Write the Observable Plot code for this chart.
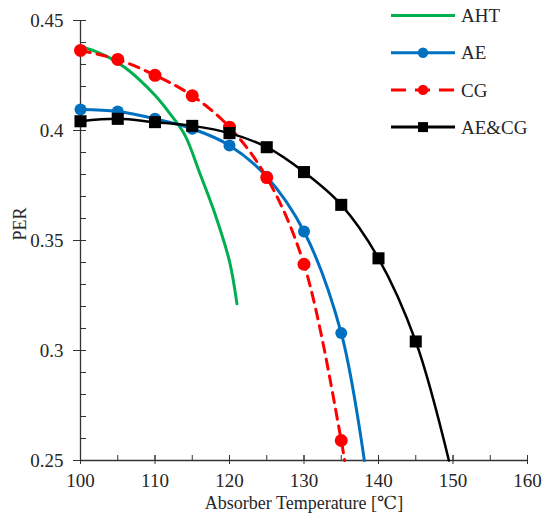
<!DOCTYPE html>
<html>
<head>
<meta charset="utf-8">
<script src="https://cdn.jsdelivr.net/npm/d3@7"></script>
<script src="https://cdn.jsdelivr.net/npm/@observablehq/plot@0.6"></script>
<style>
  body { margin: 0; background: #fff; }
  #chart { position: relative; width: 545px; height: 525px; font-family: "Liberation Serif", "DejaVu Serif", serif; }
  #legend { position: absolute; left: 0; top: 0; pointer-events: none; }
</style>
</head>
<body>
<div id="chart"></div>
<script>
// PER versus absorber temperature for four configurations
const seriesNames = ["AHT", "AE", "CG", "AE&CG"];

// AHT: continuous curve, no markers
const ahtTemps  = [100, 102, 104, 106, 108, 110, 112, 114, 116, 118, 120, 121];
const ahtValues = [0.4382, 0.4360, 0.4329, 0.4285, 0.4228, 0.4160, 0.4077, 0.3980, 0.3807, 0.3626, 0.3405, 0.3212];

// AE and CG: marked points every 5 °C
const markerTemps = [100, 105, 110, 115, 120, 125, 130, 135];
const aeValues = [0.4095, 0.4086, 0.4053, 0.4008, 0.3932, 0.379, 0.3541, 0.3079];
const cgValues = [0.4364, 0.4323, 0.4251, 0.4158, 0.4015, 0.3786, 0.3392, 0.2591];

// AE&CG: marked points every 5 °C up to 145
const comboTemps  = [100, 105, 110, 115, 120, 125, 130, 135, 140, 145];
const comboValues = [0.4042, 0.4053, 0.4038, 0.4021, 0.3988, 0.3924, 0.3811, 0.3662, 0.3419, 0.3041];

// temperature where each fitted curve reaches the bottom of the PER range
const curveEndTemps = { AE: 138.1, CG: 135.45, "AE&CG": 149.45 };
const curveEndValue = 0.25;

// axis ticks
const xMajorTicks = [100, 110, 120, 130, 140, 150, 160];
const xMinorTicks = [100, 105, 110, 115, 120, 125, 130, 135, 140, 145, 150, 155, 160];
const yMajorTicks = [0.25, 0.30, 0.35, 0.40, 0.45];
const yMinorTicks = [0.25, 0.26, 0.27, 0.28, 0.29, 0.30, 0.31, 0.32, 0.33, 0.34, 0.35, 0.36, 0.37, 0.38, 0.39, 0.40, 0.41, 0.42, 0.43, 0.44, 0.45];
const xTitle = "Absorber Temperature [℃]";
const yTitle = "PER";

const colors = { "AHT": "#00b050", "AE": "#0070c0", "CG": "#ff0000", "AE&CG": "#000000" };
const serif = "'Liberation Serif', 'DejaVu Serif', serif";

const toRows = (temps, values) => temps.map((t, i) => ({ t, v: values[i] }));
const ahtRows   = toRows(ahtTemps, ahtValues);
const aePoints  = toRows(markerTemps, aeValues);
const cgPoints  = toRows(markerTemps, cgValues);
const comboPoints = toRows(comboTemps, comboValues);
const withEnd = (rows, name) => rows.concat([{ t: curveEndTemps[name], v: curveEndValue }]);
const aeCurve = withEnd(aePoints, "AE");
const cgCurve = withEnd(cgPoints, "CG");
const comboCurve = withEnd(comboPoints, "AE&CG");

const W = 545, H = 525;
const mL = 80, mR = 18, mT = 20, mB = 65;
const innerW = W - mL - mR, innerH = H - mT - mB;
const axisColor = "#333333";
const textColor = "#262626";

const chart = Plot.plot({
  width: W, height: H,
  marginLeft: mL, marginRight: mR, marginTop: mT, marginBottom: mB,
  x: { domain: [100, 160] },
  y: { domain: [0.25, 0.45] },
  style: { fontFamily: serif, fontSize: "19px", color: textColor, background: "white" },
  marks: [
    // axis lines
    Plot.ruleX([100], { stroke: axisColor, strokeWidth: 1.3 }),
    Plot.ruleY([0.25], { stroke: axisColor, strokeWidth: 1.3 }),
    // y ticks: minor inside, major crossing
    Plot.tickY(yMinorTicks, { y: d => d, stroke: axisColor, insetRight: innerW - 6 }),
    Plot.tickY(yMajorTicks, { y: d => d, stroke: axisColor, insetLeft: -7, insetRight: innerW - 6 }),
    // x ticks: minor inside, major crossing
    Plot.tickX(xMinorTicks, { x: d => d, stroke: axisColor, insetTop: innerH - 5 }),
    Plot.tickX(xMajorTicks, { x: d => d, stroke: axisColor, insetTop: innerH - 5, insetBottom: -4 }),
    Plot.axisY(yMajorTicks, { tickSize: 0, tickPadding: 17, tickFormat: d => String(+d.toFixed(2)), label: null, fill: textColor, fontFamily: serif, fontSize: 19 }),
    Plot.axisX(xMajorTicks, { tickSize: 0, tickPadding: 13, label: null, fill: textColor, fontFamily: serif, fontSize: 19 }),
    Plot.text([xTitle], { frameAnchor: "bottom", dy: 48, fontSize: 18, fontFamily: serif, fill: textColor }),
    Plot.text([yTitle], { frameAnchor: "left", dx: -60, rotate: -90, fontSize: 18, fontFamily: serif, fill: textColor }),
    // series
    Plot.line(ahtRows, { x: "t", y: "v", stroke: colors.AHT, strokeWidth: 3, curve: "catmull-rom" }),
    Plot.line(aeCurve, { x: "t", y: "v", stroke: colors.AE, strokeWidth: 3, curve: "catmull-rom" }),
    Plot.dot(aePoints, { x: "t", y: "v", r: 6, fill: colors.AE }),
    Plot.line(cgCurve, { x: "t", y: "v", stroke: colors.CG, strokeWidth: 3, strokeDasharray: "10,7", curve: "catmull-rom" }),
    Plot.dot(cgPoints, { x: "t", y: "v", r: 6.5, fill: colors.CG }),
    Plot.line(comboCurve, { x: "t", y: "v", stroke: colors["AE&CG"], strokeWidth: 2.5, curve: "catmull-rom" }),
    Plot.dot(comboPoints, { x: "t", y: "v", r: 6.8, symbol: "square", fill: colors["AE&CG"] })
  ]
});

const container = document.getElementById("chart");
container.appendChild(chart);

// legend, top right
const legendStyle = {
  "AHT":   { dash: null, marker: null },
  "AE":    { dash: null, marker: "circle" },
  "CG":    { dash: "15,9", marker: "circle" },
  "AE&CG": { dash: null, marker: "square" }
};
const legend = d3.select(container).append("svg")
  .attr("id", "legend").attr("width", W).attr("height", 145);
const rowGap = 37.2, firstRow = 15.5, lineX0 = 391, lineX1 = 455, textX = 461;
seriesNames.forEach((name, i) => {
  const y = firstRow + i * rowGap;
  const s = legendStyle[name];
  const g = legend.append("g");
  const line = g.append("line")
    .attr("x1", lineX0).attr("x2", lineX1).attr("y1", y).attr("y2", y)
    .attr("stroke", colors[name]).attr("stroke-width", 3);
  if (s.dash) line.attr("stroke-dasharray", s.dash);
  const cx = (lineX0 + lineX1) / 2;
  if (s.marker === "circle") {
    g.append("circle").attr("cx", cx).attr("cy", y).attr("r", 5.2).attr("fill", colors[name]);
  } else if (s.marker === "square") {
    g.append("rect").attr("x", cx - 5).attr("y", y - 5).attr("width", 10).attr("height", 10).attr("fill", colors[name]);
  }
  g.append("text").attr("x", textX).attr("y", y).attr("dy", "0.35em")
    .attr("font-family", serif)
    .attr("font-size", 19).attr("fill", textColor).text(name);
});
</script>
</body>
</html>
